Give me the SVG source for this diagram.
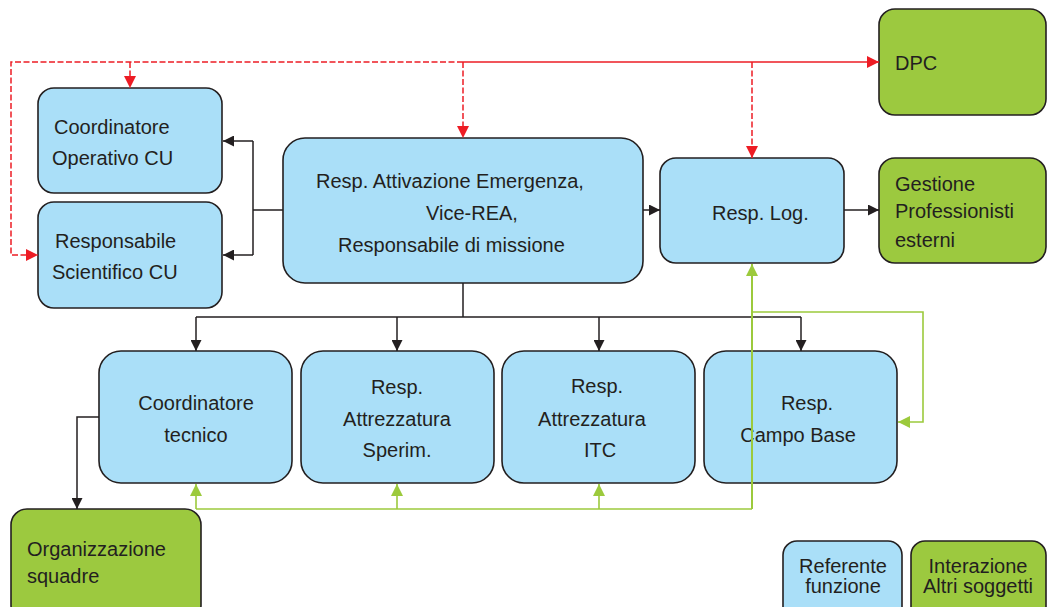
<svg xmlns="http://www.w3.org/2000/svg" width="1047" height="607" viewBox="0 0 1047 607">
<style>
.b{fill:#aadff8;stroke:#231f20;stroke-width:1.6}
.g{fill:#9cc93f;stroke:#231f20;stroke-width:1.6}
text{font-family:"Liberation Sans",Arial,sans-serif;font-size:20px;fill:#231f20}
.c{text-anchor:middle}
.k{fill:none;stroke:#231f20;stroke-width:1.5}
.r{fill:none;stroke:#ed1c24;stroke-width:1.5}
.rd{fill:none;stroke:#ed1c24;stroke-width:1.5;stroke-dasharray:6 2.5}
.gl{fill:none;stroke:#9cca3c;stroke-width:1.6}
.gl2{fill:none;stroke:#9cca3c;stroke-width:2}
</style>
<defs>
<marker id="ak" markerUnits="userSpaceOnUse" markerWidth="11" markerHeight="11" refX="11" refY="5.5" orient="auto"><path d="M0,0 L11,5.5 L0,11 z" fill="#231f20"/></marker>
<marker id="ar" markerUnits="userSpaceOnUse" markerWidth="12" markerHeight="12" refX="12" refY="6" orient="auto"><path d="M0,0 L12,6 L0,12 z" fill="#ed1c24"/></marker>
<marker id="ag" markerUnits="userSpaceOnUse" markerWidth="12" markerHeight="12" refX="12" refY="6" orient="auto"><path d="M0,0 L12,6 L0,12 z" fill="#9cca3c"/></marker>
</defs>
<g id="coordOp"><rect class="b" x="38" y="88" width="184" height="105" rx="16"/><text x="54" y="134">Coordinatore</text><text x="52" y="165">Operativo CU</text></g>
<g id="respSci"><rect class="b" x="38" y="202" width="184" height="106" rx="16"/><text x="55" y="248">Responsabile</text><text x="52" y="279">Scientifico CU</text></g>
<g id="central"><rect class="b" x="283" y="138" width="360" height="145" rx="22"/><text x="316" y="188">Resp. Attivazione Emergenza,</text><text x="426" y="220">Vice-REA,</text><text x="338" y="252">Responsabile di missione</text></g>
<g id="respLog"><rect class="b" x="660" y="158" width="184" height="105" rx="16"/><text x="712" y="220">Resp. Log.</text></g>
<g id="dpc"><rect class="g" x="879" y="9" width="167" height="106" rx="16"/><text x="895" y="70">DPC</text></g>
<g id="gestione"><rect class="g" x="879" y="158" width="167" height="105" rx="16"/><text x="895" y="191">Gestione</text><text x="895" y="218">Professionisti</text><text x="895" y="247">esterni</text></g>
<g id="coordTec"><rect class="b" x="99" y="351" width="193" height="132" rx="22"/><text class="c" x="196" y="410">Coordinatore</text><text class="c" x="196" y="442">tecnico</text></g>
<g id="sperim"><rect class="b" x="301" y="351" width="193" height="132" rx="22"/><text class="c" x="397" y="394">Resp.</text><text class="c" x="397" y="426">Attrezzatura</text><text class="c" x="397" y="457">Sperim.</text></g>
<g id="itc"><rect class="b" x="502" y="351" width="193" height="132" rx="22"/><text class="c" x="597" y="393">Resp.</text><text class="c" x="592" y="426">Attrezzatura</text><text class="c" x="600" y="457">ITC</text></g>
<g id="campo"><rect class="b" x="704" y="351" width="193" height="132" rx="22"/><text class="c" x="807" y="410">Resp.</text><text class="c" x="798" y="442">Campo Base</text></g>
<g id="org"><rect class="g" x="11" y="509" width="190" height="112" rx="16"/><text x="27" y="556">Organizzazione</text><text x="27" y="583">squadre</text></g>
<g id="referente"><rect class="b" x="783" y="541" width="119" height="80" rx="14"/><text class="c" x="843" y="573">Referente</text><text class="c" x="843" y="593">funzione</text></g>
<g id="interazione"><rect class="g" x="911" y="541" width="135" height="80" rx="14"/><text class="c" x="978" y="573">Interazione</text><text class="c" x="978" y="593">Altri soggetti</text></g>
<g id="connectors">
<path class="k" d="M283,210 H253 M253,141 V255"/>
<path class="k" d="M253,141 H223" marker-end="url(#ak)"/>
<path class="k" d="M253,255 H223" marker-end="url(#ak)"/>
<path class="k" d="M643,210 H660" marker-end="url(#ak)"/>
<path class="k" d="M844,210 H879" marker-end="url(#ak)"/>
<path class="k" d="M463,283 V317 M196,317 H801"/>
<path class="k" d="M196,317 V351" marker-end="url(#ak)"/>
<path class="k" d="M397,317 V351" marker-end="url(#ak)"/>
<path class="k" d="M599,317 V351" marker-end="url(#ak)"/>
<path class="k" d="M801,317 V351" marker-end="url(#ak)"/>
<path class="k" d="M99,417 H77 V509" marker-end="url(#ak)"/>
<path class="gl" d="M196,509 H752"/>
<path class="gl2" d="M752,509 V264" marker-end="url(#ag)"/>
<path class="gl" d="M196,509 V484" marker-end="url(#ag)"/>
<path class="gl" d="M397,509 V484" marker-end="url(#ag)"/>
<path class="gl" d="M599,509 V484" marker-end="url(#ag)"/>
<path class="gl" d="M752,312 H923 V422 H898" marker-end="url(#ag)"/>
<path class="rd" d="M463,62 H11 V255 H38" marker-end="url(#ar)"/>
<path class="r" d="M463,62 H879" marker-end="url(#ar)"/>
<path class="rd" d="M130,62 V88" marker-end="url(#ar)"/>
<path class="rd" d="M463,62 V138" marker-end="url(#ar)"/>
<path class="rd" d="M752,62 V158" marker-end="url(#ar)"/>
</g>
</svg>
